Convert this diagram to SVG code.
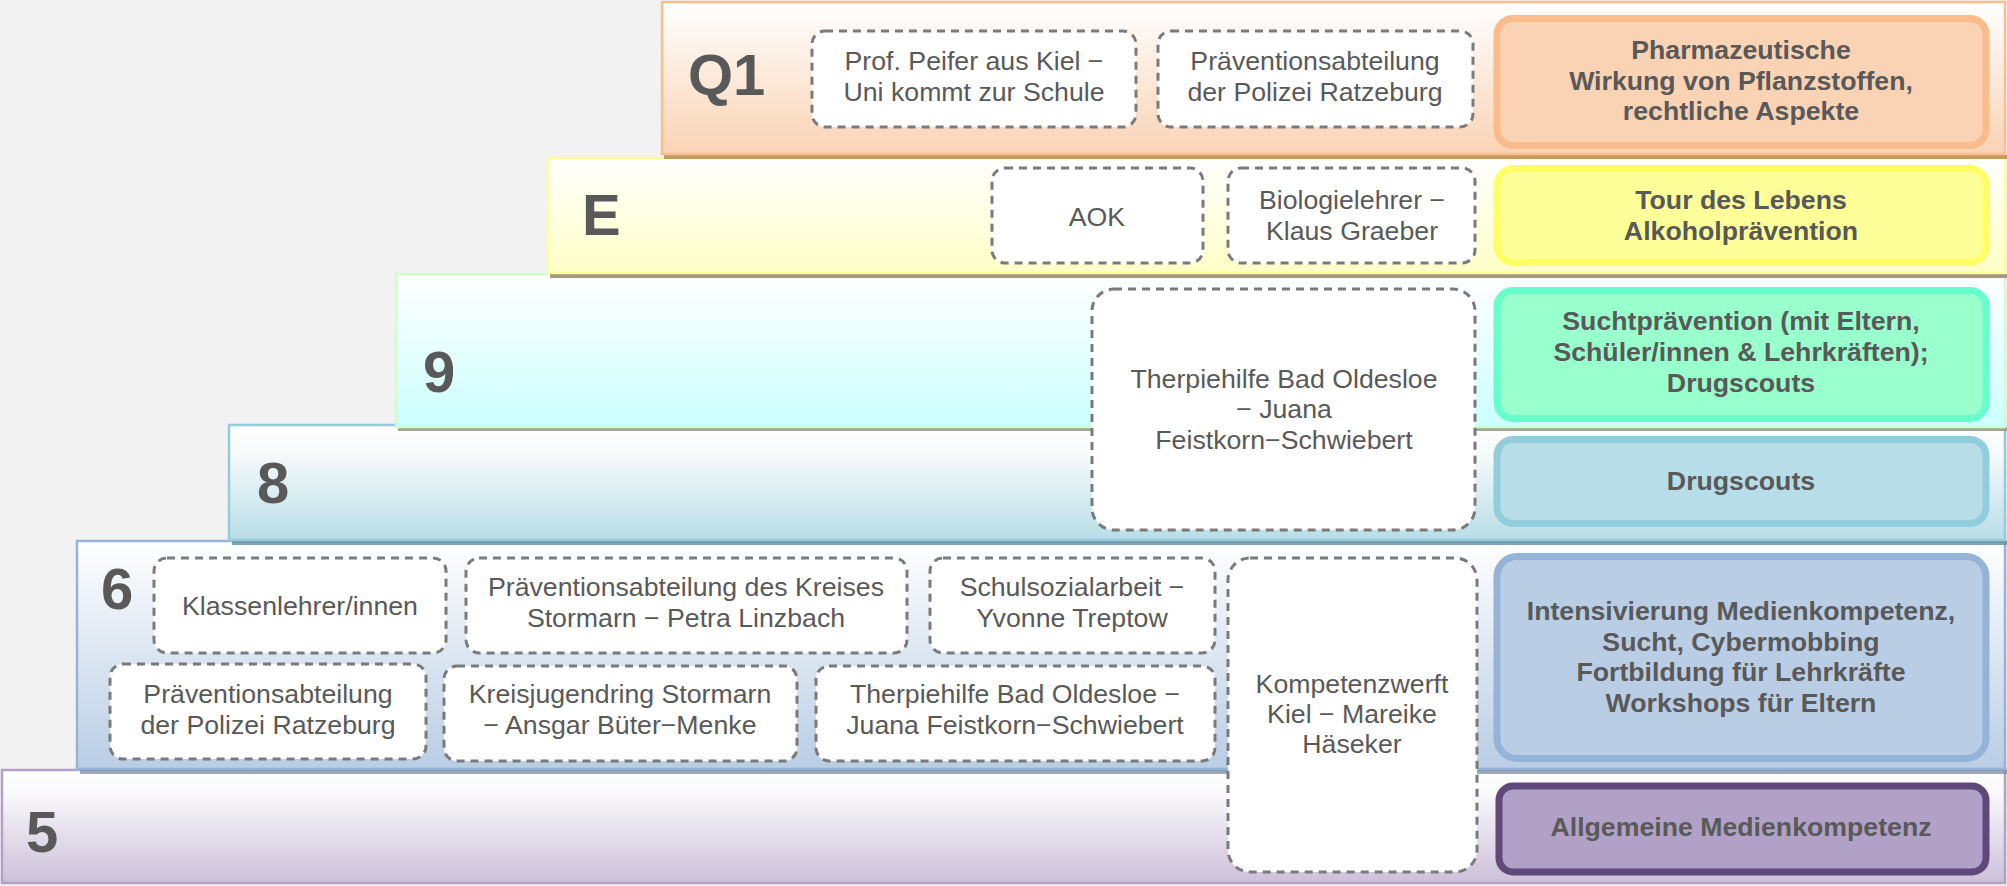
<svg xmlns="http://www.w3.org/2000/svg" width="2007" height="886" viewBox="0 0 2007 886">
<defs>
<linearGradient id="gQ1" x1="0" y1="0" x2="0" y2="1"><stop offset="0" stop-color="#FFFFFF"/><stop offset="1" stop-color="#FAD3B4"/></linearGradient>
<linearGradient id="gE" x1="0" y1="0" x2="0" y2="1"><stop offset="0" stop-color="#FFFFFF"/><stop offset="1" stop-color="#FFFFC6"/></linearGradient>
<linearGradient id="g9" x1="0" y1="0" x2="0" y2="1"><stop offset="0" stop-color="#FFFFFF"/><stop offset="1" stop-color="#CCFFFF"/></linearGradient>
<linearGradient id="g8" x1="0" y1="0" x2="0" y2="1"><stop offset="0" stop-color="#FFFFFF"/><stop offset="0.25" stop-color="#F6FAFB"/><stop offset="1" stop-color="#B7DDE7"/></linearGradient>
<linearGradient id="g6" x1="0" y1="0" x2="0" y2="1"><stop offset="0" stop-color="#FFFFFF"/><stop offset="1" stop-color="#B9CDE5"/></linearGradient>
<linearGradient id="g5" x1="0" y1="0" x2="0" y2="1"><stop offset="0" stop-color="#FFFFFF"/><stop offset="0.2" stop-color="#FAF9FB"/><stop offset="1" stop-color="#CCC0DA"/></linearGradient>
</defs>
<style>
.band{stroke-width:2.5}
.lvl{font-family:"Liberation Sans",Arial,sans-serif;font-weight:bold;font-size:58px;fill:#595959}
.dash{fill:#FFFFFF;stroke:#7A7A7A;stroke-width:3;stroke-dasharray:8 6}
.dt{font-family:"Liberation Sans",Arial,sans-serif;font-size:26.7px;fill:#595959;text-anchor:middle}
.topic{stroke-width:7}
.tt{font-family:"Liberation Sans",Arial,sans-serif;font-weight:bold;font-size:26.7px;fill:#595959;text-anchor:middle}
</style>
<rect x="0" y="0" width="2007" height="886" fill="#F2F2F2"/>

<g id="band-5">
<rect class="band" x="2" y="770" width="2003" height="113" fill="url(#g5)" stroke="#B3A2C7"/>
<text class="lvl" x="26" y="852">5</text>
</g>
<g id="band-6">
<rect x="80" y="769" width="1927" height="5" fill="#7F8DA6" opacity="0.75"/>
<rect class="band" x="77" y="541" width="1928" height="228" fill="url(#g6)" stroke="#95B3D7"/>
<text class="lvl" x="101" y="609">6</text>
</g>
<g id="band-8">
<rect x="232" y="540" width="1775" height="5" fill="#5F8A9C" opacity="0.8"/>
<rect class="band" x="229" y="425" width="1776" height="115" fill="url(#g8)" stroke="#93CDDD"/>
<text class="lvl" x="257" y="503">8</text>
</g>
<g id="band-9">
<rect x="398" y="427" width="1609" height="4" fill="#8E9A80" opacity="0.85"/>
<rect class="band" x="396" y="274" width="1609" height="153" fill="url(#g9)" stroke="#CCFFCC"/>
<text class="lvl" x="423" y="392">9</text>
</g>
<g id="band-E">
<rect x="550" y="274" width="1457" height="4" fill="#9C8C7C" opacity="0.9"/>
<rect class="band" x="548" y="158" width="1457" height="115" fill="url(#gE)" stroke="#FFFF99"/>
<text class="lvl" x="582" y="235">E</text>
</g>
<g id="band-Q1">
<rect x="664" y="155" width="1343" height="4" fill="#C09050" opacity="0.9"/>
<rect class="band" x="662" y="2" width="1343" height="152" fill="url(#gQ1)" stroke="#FABF8F"/>
<text class="lvl" x="688" y="95">Q1</text>
</g>

<g id="topic-Q1">
<rect class="topic" x="1497" y="18.5" width="489" height="127" rx="16" fill="#FAD3B4" stroke="#F9BC8A"/>
<text class="tt" x="1741" y="59">Pharmazeutische</text>
<text class="tt" x="1741" y="90">Wirkung von Pflanzstoffen,</text>
<text class="tt" x="1741" y="120">rechtliche Aspekte</text>
</g>
<g id="topic-E">
<rect class="topic" x="1497" y="168.5" width="489" height="94" rx="16" fill="#FFFF99" stroke="#FFFF66"/>
<text class="tt" x="1741" y="209">Tour des Lebens</text>
<text class="tt" x="1741" y="240">Alkoholprävention</text>
</g>
<g id="topic-9">
<rect class="topic" x="1497" y="290.5" width="489" height="128" rx="16" fill="#99FFCC" stroke="#66FFCC"/>
<text class="tt" x="1741" y="330">Suchtprävention (mit Eltern,</text>
<text class="tt" x="1741" y="361">Schüler/innen &amp; Lehrkräften);</text>
<text class="tt" x="1741" y="392">Drugscouts</text>
</g>
<g id="topic-8">
<rect class="topic" x="1497" y="439.5" width="489" height="84" rx="16" fill="#B7DEE8" stroke="#92CDDC"/>
<text class="tt" x="1741" y="490">Drugscouts</text>
</g>
<g id="topic-6">
<rect class="topic" x="1497" y="556.5" width="489" height="202" rx="20" fill="#B9CDE5" stroke="#95B3D7"/>
<text class="tt" x="1741" y="620">Intensivierung Medienkompetenz,</text>
<text class="tt" x="1741" y="651">Sucht, Cybermobbing</text>
<text class="tt" x="1741" y="681">Fortbildung für Lehrkräfte</text>
<text class="tt" x="1741" y="712">Workshops für Eltern</text>
</g>
<g id="topic-5">
<rect class="topic" x="1499" y="786" width="487" height="86" rx="14" fill="#B2A1C7" stroke="#5F497A"/>
<text class="tt" x="1741" y="836">Allgemeine Medienkompetenz</text>
</g>

<g id="p-peifer">
<rect class="dash" x="812" y="31" width="324" height="96" rx="13"/>
<text class="dt" x="974" y="70">Prof. Peifer aus Kiel −</text>
<text class="dt" x="974" y="101">Uni kommt zur Schule</text>
</g>
<g id="p-polizei-q1">
<rect class="dash" x="1158" y="31" width="315" height="96" rx="13"/>
<text class="dt" x="1315" y="70">Präventionsabteilung</text>
<text class="dt" x="1315" y="101">der Polizei Ratzeburg</text>
</g>
<g id="p-aok">
<rect class="dash" x="992" y="168" width="211" height="95" rx="13"/>
<text class="dt" x="1097" y="226">AOK</text>
</g>
<g id="p-bio">
<rect class="dash" x="1228" y="168" width="247" height="95" rx="13"/>
<text class="dt" x="1352" y="209">Biologielehrer −</text>
<text class="dt" x="1352" y="240">Klaus Graeber</text>
</g>
<g id="p-therpie-9">
<rect class="dash" x="1092" y="289" width="383" height="241" rx="22"/>
<text class="dt" x="1284" y="388">Therpiehilfe Bad Oldesloe</text>
<text class="dt" x="1284" y="418">− Juana</text>
<text class="dt" x="1284" y="449">Feistkorn−Schwiebert</text>
</g>
<g id="p-klassen">
<rect class="dash" x="154" y="558" width="292" height="95" rx="13"/>
<text class="dt" x="300" y="615">Klassenlehrer/innen</text>
</g>
<g id="p-kreis">
<rect class="dash" x="466" y="558" width="441" height="95" rx="13"/>
<text class="dt" x="686" y="596">Präventionsabteilung des Kreises</text>
<text class="dt" x="686" y="627">Stormarn − Petra Linzbach</text>
</g>
<g id="p-schulsoz">
<rect class="dash" x="930" y="558" width="285" height="95" rx="13"/>
<text class="dt" x="1072" y="596">Schulsozialarbeit −</text>
<text class="dt" x="1072" y="627">Yvonne Treptow</text>
</g>
<g id="p-polizei-6">
<rect class="dash" x="110" y="664" width="316" height="95" rx="13"/>
<text class="dt" x="268" y="703">Präventionsabteilung</text>
<text class="dt" x="268" y="734">der Polizei Ratzeburg</text>
</g>
<g id="p-kreisjugend">
<rect class="dash" x="444" y="666" width="353" height="95" rx="13"/>
<text class="dt" x="620" y="703">Kreisjugendring Stormarn</text>
<text class="dt" x="620" y="734">− Ansgar Büter−Menke</text>
</g>
<g id="p-therpie-6">
<rect class="dash" x="816" y="666" width="399" height="95" rx="13"/>
<text class="dt" x="1015" y="703">Therpiehilfe Bad Oldesloe −</text>
<text class="dt" x="1015" y="734">Juana Feistkorn−Schwiebert</text>
</g>
<g id="p-kompetenz">
<rect class="dash" x="1228" y="558" width="249" height="314" rx="22"/>
<text class="dt" x="1352" y="693">Kompetenzwerft</text>
<text class="dt" x="1352" y="723">Kiel − Mareike</text>
<text class="dt" x="1352" y="753">Häseker</text>
</g>
<g id="connectors"></g>
</svg>
